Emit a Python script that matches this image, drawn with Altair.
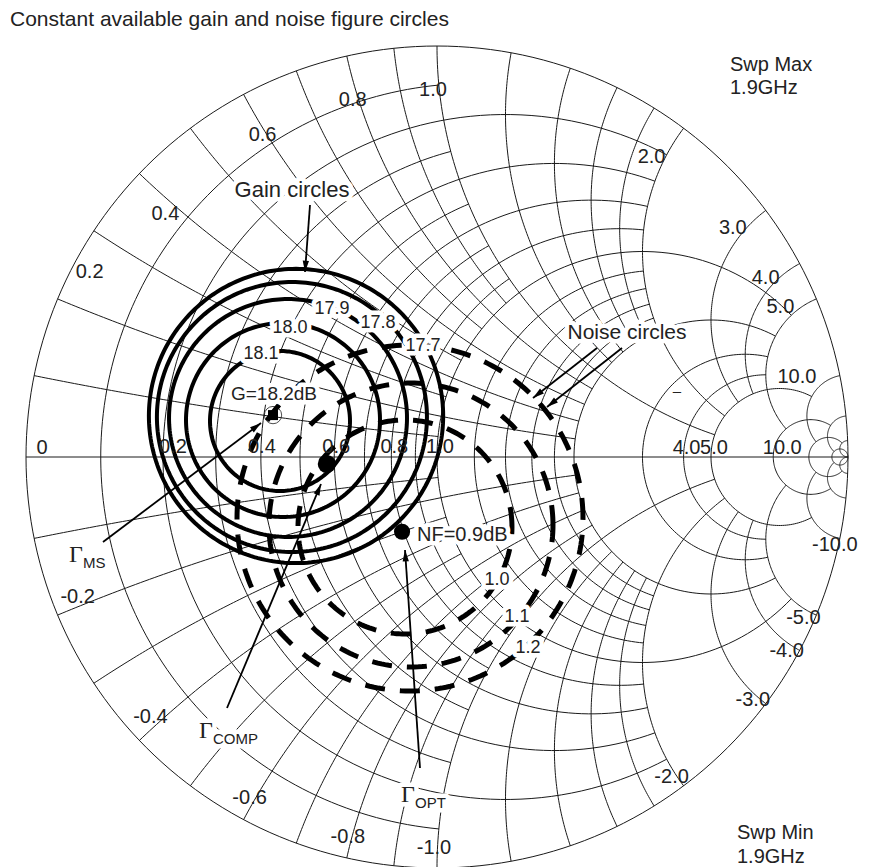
import numpy as np
import pandas as pd
import altair as alt

# ---------------- data ----------------
# Smith chart grid: constant-resistance circles and the |x| where each one is clipped (None = full)
R_VALUES = [0.0, 0.1, 0.2, 0.3, 0.4, 0.5, 0.6, 0.7, 0.8, 0.9, 1.0, 1.2, 1.4, 1.6, 1.8,
            2.0, 3.0, 4.0, 5.0, 10.0, 20.0, 50.0]
R_XLIMIT = [None, 1, 2, 1, 2, 1, 2, 1, 2, 1, 5, 2, 2, 2, 2, 5, 5, 5, 10, 20, 50, None]
# constant-reactance arcs (drawn for +x and -x) and the r where each one is clipped (None = to r=inf)
X_VALUES = [0.1, 0.2, 0.3, 0.4, 0.5, 0.6, 0.7, 0.8, 0.9, 1.0, 1.2, 1.4, 1.6, 1.8,
            2.0, 3.0, 4.0, 5.0, 10.0, 20.0, 50.0]
X_RLIMIT = [1, 2, 1, 2, 1, 2, 1, 2, 1, 5, 2, 2, 2, 2, 5, 5, 5, 10, 20, 50, None]

# grid labels
REAL_LABELS = ["0", "0.2", "0.4", "0.6", "0.8", "1.0", "4.0", "5.0", "10.0"]
REAL_VALUES = [0.0, 0.2, 0.4, 0.6, 0.8, 1.0, 4.0, 5.0, 10.0]
REACT_LABELS = ["0.2", "0.4", "0.6", "0.8", "1.0", "2.0", "3.0", "4.0", "5.0", "10.0",
                "-0.2", "-0.4", "-0.6", "-0.8", "-1.0", "-2.0", "-3.0", "-4.0", "-5.0", "-10.0"]
REACT_VALUES = [0.2, 0.4, 0.6, 0.8, 1.0, 2.0, 3.0, 4.0, 5.0, 10.0,
                -0.2, -0.4, -0.6, -0.8, -1.0, -2.0, -3.0, -4.0, -5.0, -10.0]

# constant available gain circles (reflection-coefficient plane)
GAIN_LEVELS = ["17.7", "17.8", "17.9", "18.0", "18.1"]
GAIN_CU = [-0.343, -0.353, -0.3625, -0.3747, -0.382]
GAIN_CV = [0.0998, 0.0973, 0.0949, 0.0900, 0.0876]
GAIN_RAD = [0.358, 0.3285, 0.2895, 0.236, 0.1703]

# constant noise figure circles
NOISE_LEVELS = ["1.0", "1.1", "1.2"]
NOISE_CU = [-0.0779, -0.0633, -0.0657]
NOISE_CV = [-0.1703, -0.1655, -0.1484]
NOISE_RAD = [0.2603, 0.3455, 0.4209]

# special points
G_MS = (-0.399, 0.102)
G_COMP = (-0.268, -0.017)
G_OPT = (-0.085, -0.182)

# ---------------- geometry helpers ----------------
CX, CY, RPX = 437.0, 457.0, 411.0  # page pixel of chart centre and radius (for annotation placement)


def P(px, py):
    return ((px - CX) / RPX, (CY - py) / RPX)


def gam(z):
    return (z - 1) / (z + 1)


def arc(center, rho, g0, g1, gm, n):
    a0 = np.angle(g0 - center)
    a1 = np.angle(g1 - center)
    am = np.angle(gm - center)
    span = (a1 - a0) % (2 * np.pi)
    dm = (am - a0) % (2 * np.pi)
    if dm <= span:
        t = a0 + np.linspace(0, span, n)
    else:
        t = a0 - np.linspace(0, (2 * np.pi - span) % (2 * np.pi), n)
    return center + rho * np.exp(1j * t)


rows = []
gid = 0
for r, lim in zip(R_VALUES, R_XLIMIT):
    c = r / (1 + r)
    rho = 1 / (1 + r)
    if lim is None:
        pts = c + rho * np.exp(1j * np.linspace(0, 2 * np.pi, 241))
    else:
        pts = arc(c, rho, gam(r + 1j * lim), gam(r - 1j * lim), gam(r + 0j), 140)
    for k, p in enumerate(pts):
        rows.append((gid, k, round(p.real, 5), round(p.imag, 5)))
    gid += 1
for x, lim in zip(X_VALUES, X_RLIMIT):
    for s in (1, -1):
        xx = s * x
        c = 1 + 1j / xx
        rho = 1 / abs(xx)
        g0 = gam(1j * xx)
        if lim is None:
            g1, gm = 1 + 0j, gam(1 + 1j * xx)
        else:
            g1, gm = gam(lim + 1j * xx), gam(lim / 2 + 1j * xx)
        pts = arc(c, rho, g0, g1, gm, 110)
        for k, p in enumerate(pts):
            rows.append((gid, k, round(p.real, 5), round(p.imag, 5)))
        gid += 1
rows.append((gid, 0, -1.0, 0.0))
rows.append((gid, 1, 1.0, 0.0))
grid_df = pd.DataFrame(rows, columns=["id", "k", "u", "v"])


def circle_df(levels, cu, cv, rad, n=241):
    out = []
    t = np.linspace(0, 2 * np.pi, n)
    for lv, a, b, r in zip(levels, cu, cv, rad):
        for k, tt in enumerate(t):
            out.append((lv, k, a + r * np.cos(tt), b + r * np.sin(tt)))
    return pd.DataFrame(out, columns=["lvl", "k", "u", "v"])


gain_df = circle_df(GAIN_LEVELS, GAIN_CU, GAIN_CV, GAIN_RAD)
noise_df = circle_df(NOISE_LEVELS, NOISE_CU, NOISE_CV, NOISE_RAD)

# grid label positions (pixel offsets from the grid point are styling)
REAL_OFF = [(16, -9), (10, -10), (1, -10), (2, -10), (3, -10), (3, -10), (3, -9), (3, -9), (9, -9)]
REACT_OFF = [(32, -27), (26, 40), (19, 41), (6, 44), (-4, 44), (-32, 29), (-33, 18), (-34, 14),
             (-36, 8), (-43, 1),
             (20, -18), (11, -23), (6, -22), (1, -21), (-3, -20), (-12, -9), (-13, -4), (-13, 1),
             (-13, 3), (-5, 7)]
lab_rows = []
for t, r, (dx, dy) in zip(REAL_LABELS, REAL_VALUES, REAL_OFF):
    g = gam(r + 0j)
    lab_rows.append((t, g.real + dx / RPX, g.imag - dy / RPX))
for t, x, (dx, dy) in zip(REACT_LABELS, REACT_VALUES, REACT_OFF):
    g = gam(1j * x)
    lab_rows.append((t, g.real + dx / RPX, g.imag - dy / RPX))
grid_lab_df = pd.DataFrame(lab_rows, columns=["t", "u", "v"])

# annotations (text, page-pixel position, font size)
ann_center = [
    ("Gain circles", 292, 190, 22),
    ("Noise circles", 627, 333, 21),
    ("G=18.2dB", 274, 394, 19),
    ("18.1", 261, 354, 18), ("18.0", 290, 328, 18), ("17.9", 332, 309, 18),
    ("17.8", 378, 323, 18), ("17.7", 423, 346, 18),
    ("1.0", 497, 580, 18), ("1.1", 517, 617, 18), ("1.2", 528, 648, 18),
    ("\u2013", 677, 391, 15),
]
ann_left = [
    ("Swp Max", 730, 65, 20), ("1.9GHz", 730, 88, 20),
    ("Swp Min", 737, 833, 20), ("1.9GHz", 737, 857, 20),
    ("NF=0.9dB", 417, 535, 20),
    ("MS", 83, 563, 15), ("COMP", 213, 739, 15), ("OPT", 415, 803, 15),
]
ann_gamma = [("\u0393", 76, 555, 24), ("\u0393", 206, 731, 24), ("\u0393", 408, 795, 24)]
TITLE = "Constant available gain and noise figure circles"


def ann_df(lst):
    return pd.DataFrame([(t, *P(px, py), fs) for t, px, py, fs in lst], columns=["t", "u", "v", "fs"])


# arrows (tail -> head) in page pixels
ARROWS = [((310, 205), (305, 272)), ((597, 348), (533, 398)), ((622, 348), (547, 407)),
          ((103, 542), (261, 423)), ((227, 708), (321, 484)), ((420, 768), (405, 550))]
arr_rows, head_rows = [], []
for i, ((x0, y0), (x1, y1)) in enumerate(ARROWS):
    arr_rows.append((i, 0, *P(x0, y0)))
    arr_rows.append((i, 1, *P(x1, y1)))
    ang = np.degrees(np.arctan2(x1 - x0, -(y1 - y0))) % 360
    head_rows.append((*P(x1, y1), ang))
arr_df = pd.DataFrame(arr_rows, columns=["id", "k", "u", "v"])
head_df = pd.DataFrame(head_rows, columns=["u", "v", "ang"])

# ---------------- chart ----------------
XS = alt.Scale(domain=[-1.0438, 1.0365], nice=False, zero=False)
YS = alt.Scale(domain=[-0.9976, 1.0925], nice=False, zero=False)
X = alt.X("u:Q", scale=XS, axis=None)
Y = alt.Y("v:Q", scale=YS, axis=None)
SANS = "Liberation Sans"

grid = alt.Chart(grid_df).mark_line(color="#1a1a1a", strokeWidth=1).encode(
    x=X, y=Y, detail="id:N", order="k:Q")
gain = alt.Chart(gain_df).mark_line(color="black", strokeWidth=4).encode(
    x=X, y=Y, detail="lvl:N", order="k:Q")
noise = alt.Chart(noise_df).mark_line(color="black", strokeWidth=5, strokeDash=[20, 15]).encode(
    x=X, y=Y, detail="lvl:N", order="k:Q")

pts_df = pd.DataFrame({"u": [G_COMP[0], G_OPT[0]], "v": [G_COMP[1], G_OPT[1]], "s": [330, 260]})
dots = alt.Chart(pts_df).mark_circle(color="black", opacity=1).encode(
    x=X, y=Y, size=alt.Size("s:Q", scale=None))
ms_df = pd.DataFrame({"u": [G_MS[0]], "v": [G_MS[1]]})
ms_sq = alt.Chart(ms_df).mark_square(color="black", opacity=1, size=100).encode(x=X, y=Y)
ms_ring = alt.Chart(ms_df).mark_point(shape="circle", filled=False, color="black",
                                      strokeWidth=1, size=300).encode(x=X, y=Y)

arrows = alt.Chart(arr_df).mark_line(color="black", strokeWidth=1.8).encode(
    x=X, y=Y, detail="id:N", order="k:Q")
heads = alt.Chart(head_df).mark_point(shape="M0,0L0.5,1.8L-0.5,1.8Z", filled=True, color="black",
                                      opacity=1, size=160).encode(
    x=X, y=Y, angle=alt.Angle("ang:Q", scale=None))

grid_labels = alt.Chart(grid_lab_df).mark_text(font=SANS, fontSize=20, color="#222",
                                               align="center", baseline="middle").encode(
    x=X, y=Y, text="t:N")


def text_layers(df, align, font, baseline="middle"):
    halo = alt.Chart(df).mark_text(font=font, align=align, baseline=baseline, color="white",
                                   stroke="white", strokeWidth=9, strokeJoin="round").encode(
        x=X, y=Y, text="t:N", size=alt.Size("fs:Q", scale=None))
    txt = alt.Chart(df).mark_text(font=font, align=align, baseline=baseline, color="#222").encode(
        x=X, y=Y, text="t:N", size=alt.Size("fs:Q", scale=None))
    return [halo, txt]


title_df = ann_df([(TITLE, 10, 20, 21)])
title = alt.Chart(title_df).mark_text(font=SANS, align="left", baseline="middle", color="#222").encode(
    x=X, y=Y, text="t:N", size=alt.Size("fs:Q", scale=None))

layers = [grid, gain, noise, arrows, heads, dots, ms_ring, ms_sq, grid_labels]
layers += text_layers(ann_df(ann_center), "center", SANS)
layers += text_layers(ann_df(ann_left), "left", SANS)
layers += text_layers(ann_df(ann_gamma), "center", "Liberation Serif")
layers += [title]

chart = alt.layer(*layers).properties(
    width=855, height=859, padding=0, background="white",
    autosize=alt.AutoSizeParams(type="none"),
).configure_view(stroke=None, strokeWidth=0)

chart.save("out.html", embed_options={"renderer": "svg", "actions": False})
